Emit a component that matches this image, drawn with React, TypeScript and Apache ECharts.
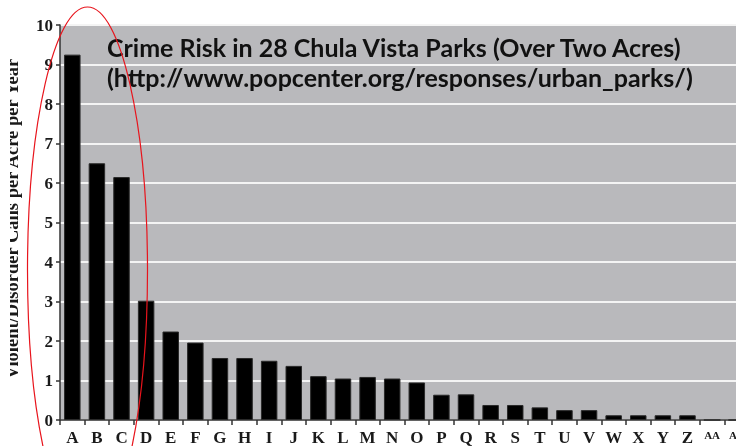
import React, { useEffect, useRef } from "react";
import * as echarts from "echarts";

const parks = ["A","B","C","D","E","F","G","H","I","J","K","L","M","N","O","P","Q","R","S","T","U","V","W","X","Y","Z","AA","AB"];
const callsPerAcre = [9.25,6.5,6.15,3.02,2.24,1.96,1.57,1.57,1.5,1.37,1.11,1.05,1.09,1.05,0.95,0.64,0.65,0.38,0.38,0.32,0.25,0.25,0.12,0.12,0.12,0.12,0,0];
const yTicks = { min: 0, max: 10, interval: 1 };
const titleLines = [
  "Crime Risk in 28 Chula Vista Parks (Over Two Acres)",
  "(http://www.popcenter.org/responses/urban_parks/)",
];
const yAxisTitle = "Violent/Disorder Calls per Acre per Year";

export default function App() {
  const ref = useRef<HTMLDivElement>(null);
  useEffect(() => {
    if (!ref.current) return;
    const chart = echarts.init(ref.current, null, { renderer: "svg" });
    const serif = "'Liberation Serif', 'DejaVu Serif', serif";
    const sans = "Lato, 'Noto Sans', sans-serif";
    chart.setOption({
      animation: false,
      grid: {
        left: 60, top: 25, width: 689, height: 395,
        backgroundColor: "#b9b9bc", show: true, borderWidth: 0,
        outerBoundsMode: "none", containLabel: false,
      },
      xAxis: {
        type: "category",
        data: parks,
        axisLine: { lineStyle: { color: "#333", width: 1.5 } },
        axisTick: { show: true, interval: 0, length: 5, lineStyle: { color: "#333", width: 1.5 } },
        axisLabel: {
          interval: 0,
          margin: 9,
          color: "#1a1a1a",
          fontFamily: serif,
          fontWeight: "bold",
          fontSize: 17,
          formatter: (v: string) => (v.length > 1 ? `{s|${v}}` : v),
          rich: { s: { fontFamily: serif, fontWeight: "bold", fontSize: 11, color: "#1a1a1a" } },
        },
      },
      yAxis: {
        type: "value",
        min: yTicks.min,
        max: yTicks.max,
        interval: yTicks.interval,
        axisLine: { show: true, lineStyle: { color: "#333", width: 1.5 } },
        axisTick: { show: true, length: 4, lineStyle: { color: "#333", width: 1.5 } },
        axisLabel: { margin: 7, color: "#1a1a1a", fontFamily: serif, fontWeight: "bold", fontSize: 17 },
        splitLine: { show: true, lineStyle: { color: "#f4f4f4", width: 2 } },
      },
      series: [
        {
          type: "bar",
          data: callsPerAcre,
          barWidth: "67%",
          itemStyle: { color: "#000", borderColor: "#2a2a2a", borderWidth: 1 },
        },
      ],
      graphic: [
        {
          type: "text",
          x: 107,
          y: 47,
          z: 100,
          style: { text: titleLines[0], fontFamily: sans, fontWeight: "bold", fontSize: 25, fill: "#111", textAlign: "left", textVerticalAlign: "middle" },
        },
        {
          type: "text",
          x: 107,
          y: 77,
          z: 100,
          style: { text: titleLines[1], fontFamily: sans, fontWeight: "bold", fontSize: 25, fill: "#111", textAlign: "left", textVerticalAlign: "middle" },
        },
        {
          type: "text",
          x: 21,
          y: 219,
          rotation: Math.PI / 2,
          z: 100,
          style: { text: yAxisTitle, fontFamily: serif, fontWeight: "bold", fontSize: 18.5, fill: "#1a1a1a", textAlign: "center", textVerticalAlign: "bottom" },
        },
        {
          type: "rect",
          z: 150,
          shape: { x: 0, y: 0, width: 10, height: 446 },
          style: { fill: "#ffffff" },
        },
        {
          type: "ellipse",
          z: 200,
          shape: { cx: 87.5, cy: 270, rx: 60, ry: 263 },
          style: { fill: "none", stroke: "#e8141c", lineWidth: 1.2 },
        },
      ],
    });
    return () => chart.dispose();
  }, []);
  return <div ref={ref} style={{ position: "fixed", left: 0, top: 0, width: 736, height: 446 }} />;
}
